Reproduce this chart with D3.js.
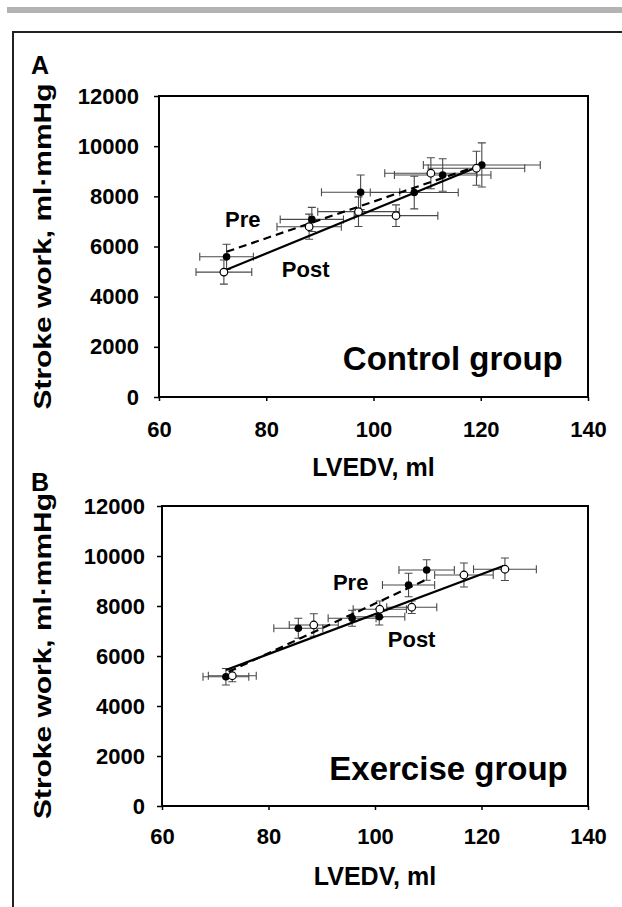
<!DOCTYPE html>
<html>
<head>
<meta charset="utf-8">
<script src="https://cdn.jsdelivr.net/npm/d3@7"></script>
<style>
  body { margin: 0; background: #fff; }
  svg { display: block; font-family: "Liberation Sans", Arial, sans-serif; }
</style>
</head>
<body>
<svg id="drawing_region"></svg>
<script>
// axis ticks (shared by both panels)
const xTickValues = [60, 80, 100, 120, 140];
const yTickValues = [0, 2000, 4000, 6000, 8000, 10000, 12000];

// A: control group
const controlPreLvedv  = [72.6, 88.5, 97.6, 107.6, 112.9, 120.2];
const controlPreSw     = [5590, 7080, 8160, 8150, 8850, 9250];
const controlPreXerr   = [5.0, 5.9, 7.3, 8.2, 9.0, 10.9];
const controlPreYerr   = [500, 480, 690, 650, 650, 880];
const controlPostLvedv = [72.1, 88.0, 97.2, 104.2, 110.7, 119.2];
const controlPostSw    = [4980, 6790, 7390, 7230, 8920, 9120];
const controlPostXerr  = [5.2, 6.0, 7.6, 7.8, 8.6, 9.0];
const controlPostYerr  = [480, 500, 590, 430, 620, 680];
const controlPreFit    = [[72.6, 5790], [120.0, 9250]];
const controlPostFit   = [[72.1, 5030], [119.5, 9180]];

// B: exercise group
const exercisePreLvedv  = [72.0, 85.6, 95.7, 100.8, 106.3, 109.7];
const exercisePreSw     = [5170, 7110, 7510, 7570, 8840, 9440];
const exercisePreXerr   = [4.3, 4.6, 4.5, 4.8, 4.9, 5.2];
const exercisePreYerr   = [330, 400, 320, 330, 470, 410];
const exercisePostLvedv = [73.2, 88.5, 100.9, 106.9, 116.7, 124.4];
const exercisePostSw    = [5210, 7240, 7870, 7950, 9240, 9470];
const exercisePostXerr  = [4.5, 4.6, 5.0, 4.7, 5.5, 5.9];
const exercisePostYerr  = [240, 450, 330, 250, 480, 450];
const exercisePreFit    = [[72.5, 5370], [109.8, 9070]];
const exercisePostFit   = [[72.0, 5440], [124.1, 9600]];

function toPoints( xs, ys, xe, ye ) {
    return xs.map( (x, i) => ({x: x, y: ys[i], xerr: xe[i], yerr: ye[i]}) );
}

const svg = d3.select('#drawing_region')
    .attr('width', 622)
    .attr('height', 907);

// grey rule and page frame
svg.append('rect')
    .attr('x', 7).attr('y', 7)
    .attr('width', 615).attr('height', 6)
    .attr('fill', '#b3b3b3');
svg.append('path')
    .attr('d', 'M13,907 L13,32 L622,32')
    .attr('fill', 'none')
    .attr('stroke', '#222')
    .attr('stroke-width', 2);

class ScatterPanel {

    constructor( config, data ) {
        this.config = config;
        this.data = data;
        this.init();
    }

    init() {
        let self = this;
        const c = self.config;

        self.chart = svg.append('g')
            .attr('transform', `translate(${c.left}, ${c.top})`);

        self.xscale = d3.scaleLinear()
            .domain( [60, 140] )
            .range( [0, c.width] );

        self.yscale = d3.scaleLinear()
            .domain( [0, 12000] )
            .range( [c.height, 0] );

        self.xaxis = d3.axisBottom( self.xscale )
            .tickValues( xTickValues )
            .tickFormat( d3.format('d') )
            .tickSize(4)
            .tickSizeOuter(0)
            .tickPadding( c.xpad );

        self.yaxis = d3.axisLeft( self.yscale )
            .tickValues( yTickValues )
            .tickFormat( d3.format('d') )
            .tickSize(5)
            .tickSizeOuter(0)
            .tickPadding( c.ypad );

        self.line = d3.line()
            .x( d => self.xscale(d[0]) )
            .y( d => self.yscale(d[1]) );
    }

    render() {
        let self = this;
        const c = self.config;
        const cap = 4;

        // error bars
        const all = self.data.pre.concat( self.data.post );
        const eb = self.chart.append('g')
            .attr('stroke', '#4a4a4a')
            .attr('stroke-width', 1.1)
            .attr('fill', 'none');

        all.forEach( d => {
            const cx = self.xscale(d.x), cy = self.yscale(d.y);
            const x0 = self.xscale(d.x - d.xerr), x1 = self.xscale(d.x + d.xerr);
            const y0 = self.yscale(d.y - d.yerr), y1 = self.yscale(d.y + d.yerr);
            eb.append('path')
                .attr('d', `M${x0},${cy}H${x1}M${x0},${cy-cap}V${cy+cap}M${x1},${cy-cap}V${cy+cap}` +
                           `M${cx},${y0}V${y1}M${cx-cap},${y0}H${cx+cap}M${cx-cap},${y1}H${cx+cap}`);
        });

        // regression lines
        self.chart.append('path')
            .attr('d', self.line( self.data.preFit ))
            .attr('stroke', 'black')
            .attr('stroke-width', 2.2)
            .attr('stroke-dasharray', '8,5')
            .attr('fill', 'none');

        self.chart.append('path')
            .attr('d', self.line( self.data.postFit ))
            .attr('stroke', 'black')
            .attr('stroke-width', 2.2)
            .attr('fill', 'none');

        // points
        self.chart.selectAll('circle.pre')
            .data( self.data.pre )
            .enter()
            .append('circle')
            .attr('class', 'pre')
            .attr('cx', d => self.xscale(d.x))
            .attr('cy', d => self.yscale(d.y))
            .attr('r', 3.8)
            .attr('fill', 'black');

        self.chart.selectAll('circle.post')
            .data( self.data.post )
            .enter()
            .append('circle')
            .attr('class', 'post')
            .attr('cx', d => self.xscale(d.x))
            .attr('cy', d => self.yscale(d.y))
            .attr('r', 3.8)
            .attr('fill', 'white')
            .attr('stroke', 'black')
            .attr('stroke-width', 1.2);

        // axes
        const xg = self.chart.append('g')
            .attr('transform', `translate(0, ${c.height})`)
            .call( self.xaxis );
        const yg = self.chart.append('g')
            .call( self.yaxis );

        [xg, yg].forEach( g => {
            g.select('.domain').remove();
            g.selectAll('line').attr('stroke', 'black').attr('stroke-width', 1.5);
            g.selectAll('text')
                .attr('fill', 'black')
                .attr('font-family', '"Liberation Sans", Arial, sans-serif')
                .attr('font-size', '22px')
                .attr('font-weight', 'bold');
        });

        // plot box
        self.chart.append('rect')
            .attr('width', c.width)
            .attr('height', c.height)
            .attr('fill', 'none')
            .attr('stroke', 'black')
            .attr('stroke-width', 2);

        // Pre / Post labels
        self.chart.append('text')
            .attr('x', self.xscale(c.preLabel[0]))
            .attr('y', self.yscale(c.preLabel[1]))
            .attr('font-size', '22px')
            .attr('font-weight', 'bold')
            .text('Pre');

        self.chart.append('text')
            .attr('x', self.xscale(c.postLabel[0]))
            .attr('y', self.yscale(c.postLabel[1]))
            .attr('font-size', '22px')
            .attr('font-weight', 'bold')
            .text('Post');

        self.chart.append('text')
            .attr('x', self.xscale(c.groupLabel[0]))
            .attr('y', self.yscale(c.groupLabel[1]))
            .attr('text-anchor', 'end')
            .attr('font-size', '33px')
            .attr('font-weight', 'bold')
            .text( c.group );

        // panel letter
        svg.append('text')
            .attr('x', 31)
            .attr('y', c.letterY)
            .attr('font-size', '25px')
            .attr('font-weight', 'bold')
            .text( c.letter );

        // axis titles
        svg.append('text')
            .attr('x', c.left + c.width/2)
            .attr('y', c.top + c.height + 79)
            .attr('text-anchor', 'middle')
            .attr('font-size', '25px')
            .attr('font-weight', 'bold')
            .text('LVEDV, ml');

        svg.append('text')
            .attr('transform', `translate(51, ${c.top + c.height/2}) rotate(-90)`)
            .attr('text-anchor', 'middle')
            .attr('font-size', '23px')
            .attr('font-weight', 'bold')
            .attr('textLength', 326)
            .attr('lengthAdjust', 'spacingAndGlyphs')
            .text('Stroke work, ml\u00b7mmHg');
    }
}

const panelA = new ScatterPanel(
    { left: 159, top: 96, width: 429, height: 301, xpad: 20, ypad: 15,
      letter: 'A', letterY: 74, group: 'Control group',
      preLabel: [72.3, 6790], postLabel: [82.9, 4800], groupLabel: [135.3, 1076] },
    { pre: toPoints( controlPreLvedv, controlPreSw, controlPreXerr, controlPreYerr ),
      post: toPoints( controlPostLvedv, controlPostSw, controlPostXerr, controlPostYerr ),
      preFit: controlPreFit, postFit: controlPostFit } );
panelA.render();

const panelB = new ScatterPanel(
    { left: 162, top: 506, width: 426, height: 300, xpad: 18, ypad: 12,
      letter: 'B', letterY: 491, group: 'Exercise group',
      preLabel: [92.1, 8640], postLabel: [102.4, 6350], groupLabel: [136.2, 1040] },
    { pre: toPoints( exercisePreLvedv, exercisePreSw, exercisePreXerr, exercisePreYerr ),
      post: toPoints( exercisePostLvedv, exercisePostSw, exercisePostXerr, exercisePostYerr ),
      preFit: exercisePreFit, postFit: exercisePostFit } );
panelB.render();
</script>
</body>
</html>
